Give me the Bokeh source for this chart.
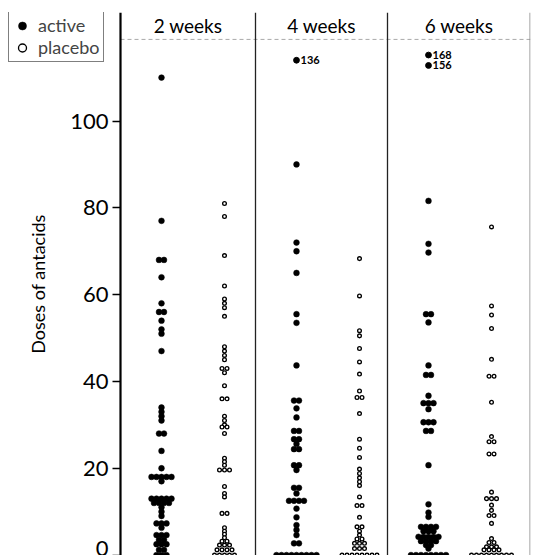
from collections import Counter

from bokeh.plotting import figure
from bokeh.models import (Range1d, Span, FixedTicker, Legend, LegendItem,
                          ColumnDataSource)
from bokeh.embed import file_html
from bokeh.resources import INLINE
from bokeh.core.properties import value

# ---------------- data ----------------
weeks = ["2 weeks", "4 weeks", "6 weeks"]
groups = ["active", "placebo"]

active_2wk = [110, 77, 68, 68, 64, 58, 56, 56, 54, 52, 51, 47, 34, 33, 32, 31,
              28, 28, 24, 20, 18, 18, 18, 18, 18, 17, 13, 13, 13, 13, 13,
              12, 12, 12, 12, 11, 10, 9, 7.3, 7.3, 7.3, 6.3, 4.6, 4.6, 4.6,
              3.5, 3.5, 2.5, 2.5, 2.5, 1.2, 1.2, 0, 0, 0]
placebo_2wk = [81, 78, 69, 62, 59, 58, 57, 55, 48, 47, 46, 45, 43, 43, 42, 39,
               36, 36, 32, 31, 30, 29.5, 29.5, 28, 22.3, 21.5, 20.7, 19.6,
               19.6, 19.6, 15.8, 14.2, 13.4, 9.6, 9.6, 6.3, 5.5, 4.8, 4,
               3.2, 3.2, 2.3, 2.3, 2.3, 1.2, 1.2, 1.2, 1.2, 0, 0, 0, 0, 0]
active_4wk = [90, 72, 70, 65, 55.5, 53.5, 43.7, 35.6, 35.6, 33.8, 31.7, 28.6,
              28.6, 26.7, 26.7, 25.6, 24.4, 24.4, 20.7, 20.7, 19.6, 15.5,
              15.5, 14.2, 12.5, 12.5, 12.5, 12.5, 10.7, 8.7, 6.9, 5.8, 4.6,
              2.7, 2.7, 0, 0, 0, 0, 0, 0, 0, 0, 0]
placebo_4wk = [68.3, 59.7, 51.7, 50.5, 47.6, 44.5, 41.7, 37.8, 36.3, 36.3,
               32.6, 26.7, 24.6, 22.5, 19.8, 18.8, 17.8, 16.9, 16, 13.4, 11.4,
               11.4, 8.7, 6.5, 6.5, 5.5, 4.6, 3.7, 3.7, 2.7, 2.7, 2.7, 1.5,
               1.5, 1.5, 0, 0, 0, 0, 0, 0, 0, 0]
active_6wk = [81.6, 71.7, 69.7, 55.5, 55.5, 53.6, 43.7, 41.5, 41.5, 36.7, 35,
              35, 35, 33.6, 30.6, 30.6, 30.6, 28.6, 28.6, 20.7, 11.7, 9.8,
              8.8, 6.5, 6.5, 6.5, 6.5, 5.5, 5.5, 5.5, 4.2, 4.2, 4.2, 4.2, 4.2,
              3.2, 3.2, 3.2, 3.2, 2.3, 2.3, 1.5, 0, 0, 0, 0, 0, 0, 0, 0]
placebo_6wk = [75.6, 57.4, 55.3, 52.2, 45.1, 41.2, 41.2, 35.2, 27.3, 26.1,
               26.1, 23.3, 23.3, 14.5, 13, 13, 13, 11.5, 10.3, 9.1, 9.1, 7.3,
               3.8, 2.9, 2.9, 1.9, 1.9, 1.9, 1.2, 1.2, 1.2, 1.2,
               0, 0, 0, 0, 0, 0, 0, 0, 0]

# values beyond the axis top (active group), drawn at a break with labels
offscale_values = [136, 168, 156]
offscale_weeks = ["4 weeks", "6 weeks", "6 weeks"]

y_ticks = [0, 20, 40, 60, 80, 100]

series = {
    ("2 weeks", "active"): active_2wk,
    ("2 weeks", "placebo"): placebo_2wk,
    ("4 weeks", "active"): active_4wk,
    ("4 weeks", "placebo"): placebo_4wk,
    ("6 weeks", "active"): active_6wk,
    ("6 weeks", "placebo"): placebo_6wk,
}

# ---------------- layout (screen-pixel x units) ----------------
LEFT_MARGIN = 120     # space left of the y axis (inside the frame)
PANEL_LEFT = [0, 135, 267]
PANEL_RIGHT = [135, 267, 410]
GROUP_OFFSET = {"active": 41, "placebo": 104}
STEP = 5.0           # horizontal spacing of tied values
BREAK_LEVEL = 114.0  # where off-scale values are drawn
BREAK_GAP = 2.4
HEADER_Y = 122.0
HEADER_RULE_Y = 118.8
FONT = "Lato"


def dot_strip(vals, center):
    counts = Counter(vals)
    seen = Counter()
    xs, ys = [], []
    for v in vals:
        n = counts[v]
        k = seen[v]
        seen[v] += 1
        xs.append(center + (k - (n - 1) / 2.0) * STEP)
        ys.append(v)
    return xs, ys


filled = {"x": [], "y": []}
hollow = {"x": [], "y": []}
for (wk, grp), vals in series.items():
    i = weeks.index(wk)
    xs, ys = dot_strip(vals, PANEL_LEFT[i] + GROUP_OFFSET[grp])
    target = filled if grp == "active" else hollow
    target["x"] += xs
    target["y"] += ys

# off-scale points
off_x, off_y, off_lab, off_lx = [], [], [], []
for wk in weeks:
    vs = sorted([v for v, w in zip(offscale_values, offscale_weeks) if w == wk],
                reverse=True)
    n = len(vs)
    for k, v in enumerate(vs):
        cx = PANEL_LEFT[weeks.index(wk)] + GROUP_OFFSET["active"]
        off_x.append(cx)
        off_y.append(BREAK_LEVEL + ((n - 1) / 2.0 - k) * BREAK_GAP)
        off_lab.append(str(v))
        off_lx.append(cx + 4)

p = figure(width=533, height=555, output_backend="svg", toolbar_location=None,
           x_range=Range1d(-LEFT_MARGIN, PANEL_RIGHT[-1]),
           y_range=Range1d(-0.1, 125),
           x_axis_location=None, min_border_left=0, min_border_right=3,
           min_border_top=12, min_border_bottom=0)
p.outline_line_color = None
p.xgrid.visible = False
p.ygrid.visible = False
p.background_fill_color = "white"
p.border_fill_color = "white"

# y axis, pinned at x = 0 (left edge of the first panel)
ax = p.yaxis[0]
ax.fixed_location = 0
ax.ticker = FixedTicker(ticks=y_ticks)
ax.axis_line_width = 2.2
ax.axis_line_color = "black"
ax.major_tick_line_width = 1.6
ax.major_tick_line_color = "black"
ax.major_tick_out = 8
ax.major_tick_in = 0
ax.minor_tick_out = 0
ax.minor_tick_in = 0
ax.major_label_standoff = 4
ax.major_label_text_font = FONT
ax.major_label_text_font_size = "22px"
ax.major_label_text_color = "black"
ax.axis_label = "Doses of antacids"
ax.axis_label_text_font = FONT
ax.axis_label_text_font_style = "normal"
ax.axis_label_text_font_size = "18px"
ax.axis_label_text_color = "black"
ax.axis_label_standoff = 18

# panel separators and header rule
for xv in PANEL_RIGHT[:-1]:
    p.add_layout(Span(location=xv, dimension="height", line_color="#222222",
                      line_width=1.3))
p.add_layout(Span(location=PANEL_RIGHT[-1] - 0.5, dimension="height",
                  line_color="#888888", line_width=1))
p.segment(x0=[PANEL_LEFT[0]], x1=[PANEL_RIGHT[-1]], y0=[HEADER_RULE_Y],
          y1=[HEADER_RULE_Y], line_color="#aaaaaa", line_width=1,
          line_dash="4 3")

# headers
hdr = ColumnDataSource(dict(
    x=[(l + r) / 2.0 for l, r in zip(PANEL_LEFT, PANEL_RIGHT)],
    y=[HEADER_Y] * len(weeks), t=weeks))
p.text(x="x", y="y", text="t", source=hdr, text_font=value(FONT),
       text_font_size="19px", text_align="center", text_baseline="middle",
       text_color="black")

# dots
r_act = p.scatter(x="x", y="y", source=ColumnDataSource(filled), size=5.8,
                  marker="circle", fill_color="black", line_color="black",
                  line_width=0.5)
r_pla = p.scatter(x="x", y="y", source=ColumnDataSource(hollow), size=3.7,
                  marker="circle", fill_color="white", line_color="black",
                  line_width=1.35)

osrc = ColumnDataSource(dict(x=off_x, y=off_y, lx=off_lx, t=off_lab))
p.scatter(x="x", y="y", source=osrc, size=5.8, marker="circle",
          fill_color="black", line_color="black")
p.text(x="lx", y="y", text="t", source=osrc, text_font=value(FONT),
       text_font_size="11px", text_font_style="bold", text_align="left",
       text_baseline="middle", text_color="black")

legend = Legend(items=[LegendItem(label=groups[0], renderers=[r_act]),
                       LegendItem(label=groups[1], renderers=[r_pla])],
                location=(8, 493))
legend.padding = 3
legend.spacing = 0
legend.margin = 0
legend.glyph_width = 20
legend.glyph_height = 21
legend.label_height = 21
legend.label_standoff = 6
legend.label_text_font = FONT
legend.label_text_font_size = "18px"
legend.border_line_color = "black"
legend.border_line_width = 1.5
legend.background_fill_color = "white"
legend.background_fill_alpha = 1
p.add_layout(legend)

open("out.html", "w").write(file_html(p, INLINE))
